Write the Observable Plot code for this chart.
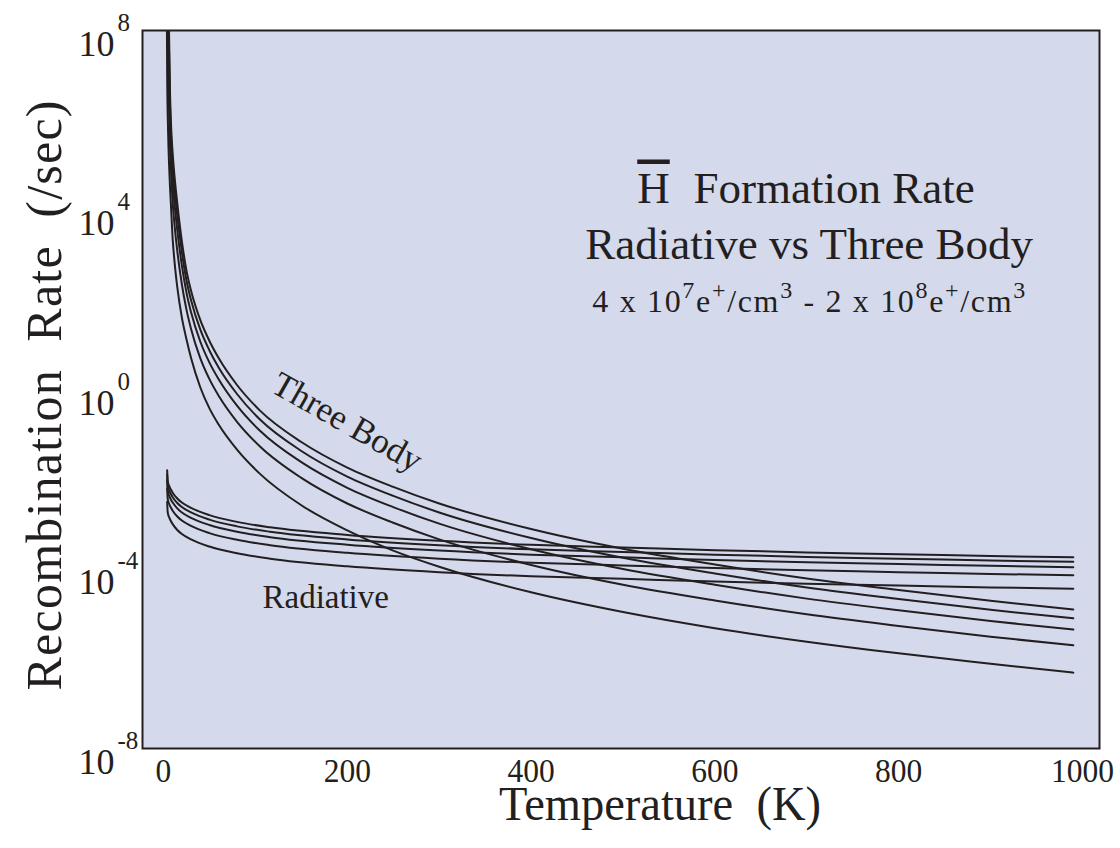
<!DOCTYPE html>
<html>
<head>
<meta charset="utf-8">
<script src="https://cdn.jsdelivr.net/npm/d3@7"></script>
<script src="https://cdn.jsdelivr.net/npm/@observablehq/plot@0.6"></script>
<style>
  body { margin: 0; background: #ffffff; }
  #chart { width: 1120px; height: 848px; }
</style>
</head>
<body>
<div id="chart"></div>
<script>
// ---------- data ----------
// positron densities of the five curves in each family (e+/cm^3)
const densities = ["4e7", "8e7", "1.2e8", "1.6e8", "2e8"];

// Three-body recombination: temperatures (K) and log10 rate (/sec)
const tempsThreeBody = [3.5, 4, 5, 6, 7, 8, 10, 12, 15, 20, 25, 30, 40, 50, 60, 80, 105, 150, 200, 250, 300, 400, 500, 600, 700, 800, 900, 990];
const threeBody2e8   = [13, 12, 9.6, 8.0, 6.7, 6.0, 5.25, 4.75, 4.15, 3.30, 2.65, 2.20, 1.55, 1.08, 0.70, 0.10, -0.47, -1.17, -1.74, -2.17, -2.54, -3.11, -3.55, -3.90, -4.21, -4.47, -4.71, -4.90];
const threeBody16e7  = [12.42, 11.29, 9.05, 7.58, 6.39, 5.74, 4.98, 4.48, 3.88, 3.06, 2.43, 1.99, 1.34, 0.87, 0.49, -0.10, -0.67, -1.37, -1.94, -2.37, -2.74, -3.31, -3.75, -4.10, -4.41, -4.67, -4.91, -5.10];
const threeBody12e7  = [11.69, 10.41, 8.37, 7.06, 6.01, 5.41, 4.64, 4.14, 3.55, 2.76, 2.16, 1.72, 1.07, 0.60, 0.23, -0.36, -0.92, -1.62, -2.19, -2.62, -2.99, -3.56, -4.00, -4.35, -4.66, -4.92, -5.16, -5.35];
const threeBody8e7   = [10.68, 9.17, 7.42, 6.33, 5.48, 4.95, 4.17, 3.67, 3.09, 2.34, 1.78, 1.35, 0.70, 0.23, -0.14, -0.72, -1.27, -1.97, -2.54, -2.97, -3.34, -3.91, -4.35, -4.70, -5.01, -5.27, -5.51, -5.70];
const threeBody4e7   = [8.9, 7.0, 5.75, 5.05, 4.55, 4.15, 3.35, 2.85, 2.28, 1.60, 1.12, 0.70, 0.05, -0.42, -0.78, -1.34, -1.88, -2.58, -3.14, -3.59, -3.95, -4.52, -4.96, -5.32, -5.62, -5.88, -6.11, -6.31];

// Radiative recombination: temperatures (K) and log10 rate (/sec)
const tempsRadiative = [4, 4.5, 5, 6, 8, 10, 15, 20, 30, 50, 80, 116, 200, 300, 400, 500, 600, 700, 800, 900, 990];
const radiative2e8  = [-1.80, -2.02, -2.08, -2.14, -2.23, -2.30, -2.43, -2.52, -2.64, -2.80, -2.95, -3.07, -3.24, -3.37, -3.46, -3.52, -3.58, -3.63, -3.67, -3.71, -3.74];
const radiative16e7 = [-1.90, -2.12, -2.18, -2.24, -2.33, -2.40, -2.53, -2.62, -2.74, -2.90, -3.05, -3.17, -3.34, -3.47, -3.56, -3.62, -3.68, -3.73, -3.77, -3.81, -3.84];
const radiative12e7 = [-2.02, -2.24, -2.30, -2.36, -2.45, -2.52, -2.65, -2.74, -2.86, -3.02, -3.17, -3.29, -3.46, -3.59, -3.68, -3.74, -3.80, -3.85, -3.89, -3.93, -3.96];
const radiative8e7  = [-2.20, -2.42, -2.48, -2.54, -2.63, -2.70, -2.83, -2.92, -3.04, -3.20, -3.35, -3.47, -3.64, -3.77, -3.86, -3.92, -3.98, -4.03, -4.07, -4.11, -4.14];
const radiative4e7  = [-2.50, -2.72, -2.78, -2.84, -2.93, -3.00, -3.13, -3.22, -3.34, -3.50, -3.65, -3.77, -3.94, -4.07, -4.16, -4.22, -4.28, -4.33, -4.37, -4.41, -4.44];

// axis ticks
const xTicks = [0, 200, 400, 600, 800, 1000];
const yTicks = [1e-8, 1e-4, 1, 1e4, 1e8];
const yTickExponents = ["-8", "-4", "0", "4", "8"];

// texts
const titleH = "H";
const titleLine1 = "Formation Rate";
const titleLine2 = "Radiative vs Three Body";
const titleLine3 = "4 x 10^{7}e^{+}/cm^{3} - 2 x 10^{8}e^{+}/cm^{3}";
const labelThreeBody = "Three Body";
const labelRadiative = "Radiative";
const xTitle = "Temperature\u00a0\u00a0(K)";
const yTitle = "Recombination\u00a0\u00a0Rate\u00a0\u00a0(/sec)";

// ---------- build table ----------
const threeBodySets = [threeBody4e7, threeBody8e7, threeBody12e7, threeBody16e7, threeBody2e8];
const radiativeSets = [radiative4e7, radiative8e7, radiative12e7, radiative16e7, radiative2e8];
const rows = [];
threeBodySets.forEach((vals, i) => vals.forEach((v, j) =>
  rows.push({series: "three-" + densities[i], T: tempsThreeBody[j], rate: Math.pow(10, v)})));
radiativeSets.forEach((vals, i) => vals.forEach((v, j) =>
  rows.push({series: "rad-" + densities[i], T: tempsRadiative[j], rate: Math.pow(10, v)})));

const ink = "#231f20";
const panel = "#d4d9eb";
const serif = '"Liberation Serif", "Times New Roman", Times, serif';

const chart = Plot.plot({
  width: 1120,
  height: 848,
  marginLeft: 142,
  marginRight: 21,
  marginTop: 30,
  marginBottom: 100,
  style: {fontFamily: serif, color: ink, background: "#ffffff", overflow: "visible"},
  x: {domain: [-22.85, 1018.5], axis: null, label: null},
  y: {type: "log", domain: [1e-8, 1e8], axis: null, label: null},
  marks: [
    Plot.frame({fill: panel, stroke: null}),
    Plot.line(rows, {x: "T", y: "rate", z: "series", stroke: ink, strokeWidth: 2, curve: "monotone-x", clip: true}),
    Plot.frame({stroke: ink, strokeWidth: 2}),
    // x axis tick labels
    Plot.axisX(xTicks, {tickSize: 0, tickPadding: 10, fontSize: 33, fill: ink, label: null, tickFormat: d => String(d)}),
    // y axis tick labels (10 with exponent)
    Plot.text(yTicks, {y: d => d, frameAnchor: "left", text: (d, i) => "10^{" + yTickExponents[i] + "}",
      textAnchor: "start", lineAnchor: "bottom", dx: -64, dy: 25, fontSize: 36, fill: ink}),
    // axis titles
    Plot.text([xTitle], {frameAnchor: "bottom", text: d => d, textAnchor: "middle", lineAnchor: "bottom",
      dx: 39, dy: 71, fontSize: 49, fill: ink}),
    Plot.text([yTitle], {frameAnchor: "left", text: d => d, rotate: -90, textAnchor: "middle", lineAnchor: "bottom",
      dx: -82, dy: 6, fontSize: 50, fill: ink}),
    // title block inside the panel
    Plot.text([titleH], {x: 515.5, y: Math.pow(10, 4.145), text: d => d, textAnchor: "start", lineAnchor: "bottom", fontSize: 45, fill: ink}),
    Plot.text([titleLine1], {x: 576.7, y: Math.pow(10, 4.145), text: d => d, textAnchor: "start", lineAnchor: "bottom", fontSize: 45, fill: ink}),
    Plot.text([titleLine2], {x: 702.6, y: Math.pow(10, 2.913), text: d => d, textAnchor: "middle", lineAnchor: "bottom", fontSize: 45, fill: ink}),
    Plot.text([titleLine3], {x: 702.2, y: Math.pow(10, 1.72), text: d => d, textAnchor: "middle", lineAnchor: "bottom", fontSize: 32, fill: ink}),
    // curve family labels
    Plot.text([labelThreeBody], {x: 199.9, y: Math.pow(10, -0.729), text: d => d, rotate: 29.6, textAnchor: "middle", lineAnchor: "middle", fontSize: 35, fill: ink}),
    Plot.text([labelRadiative], {x: 107.7, y: Math.pow(10, -4.858), text: d => d, textAnchor: "start", lineAnchor: "bottom", fontSize: 33, fill: ink})
  ]
});

// ---------- superscripts and text fitting ----------
const svgNS = "http://www.w3.org/2000/svg";
d3.select(chart).selectAll("text").each(function () {
  const t = this.textContent;
  if (t === titleH) { this.style.textDecoration = "overline"; return; }
  if (t === xTitle) { this.setAttribute("textLength", 322); this.setAttribute("lengthAdjust", "spacingAndGlyphs"); return; }
  if (t === yTitle) { this.setAttribute("textLength", 590); this.setAttribute("lengthAdjust", "spacing"); return; }
  if (!t.includes("^{")) return;
  const isTitle = t.startsWith("4 x");
  const baseSize = isTitle ? 32 : 36;
  const supSize = isTitle ? 24 : 25;
  const shift = isTitle ? 14 : 25;
  const parts = t.split(/(\^\{[^}]*\})/).filter(p => p.length);
  this.textContent = "";
  let raised = false;
  for (const p of parts) {
    const ts = document.createElementNS(svgNS, "tspan");
    if (p.startsWith("^{")) {
      ts.textContent = p.slice(2, -1);
      ts.setAttribute("font-size", supSize);
      ts.setAttribute("dy", raised ? 0 : -shift);
      if (!isTitle) ts.setAttribute("dx", 3);
      raised = true;
    } else {
      ts.textContent = p;
      ts.setAttribute("font-size", baseSize);
      if (raised) ts.setAttribute("dy", shift);
      raised = false;
    }
    this.appendChild(ts);
  }
  if (isTitle) { this.setAttribute("textLength", 433); this.setAttribute("lengthAdjust", "spacing"); }
});

// x tick labels: condensed digits like the original
d3.select(chart).selectAll('g[aria-label="x-axis tick label"] text').each(function () {
  const n = this.textContent.length;
  this.setAttribute("textLength", 15.75 * n);
  this.setAttribute("lengthAdjust", "spacingAndGlyphs");
});

document.getElementById("chart").appendChild(chart);
</script>
</body>
</html>
